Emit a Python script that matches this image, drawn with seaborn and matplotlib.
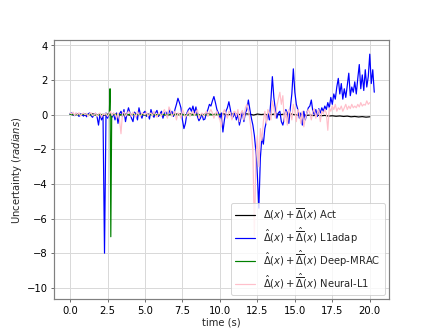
import numpy as np
import pandas as pd
import matplotlib
matplotlib.use("Agg")
import matplotlib.pyplot as plt
import seaborn as sns

# ------------------------------------------------------------
# data
# ------------------------------------------------------------
# L1adap and Neural-L1 sampled every 0.1 s
t_blue = [round(0.1 * i, 1) for i in range(204)]
blue = [
    0.05, 0.1, 0.0, -0.05, 0.08, 0.02, -0.1, 0.05, 0.0, -0.08,
    0.06, -0.12, 0.04, 0.1, -0.05, -0.15, 0.02, 0.08, -0.1, -0.6,
    0.05, -0.3, 0.02, -8.0, 0.1, -0.2, 0.05, 0.0, -0.15, 0.08,
    -0.3, 0.1, -0.5, 0.05, 0.2, -0.1, 0.3, -0.4, 0.05, 0.4,
    0.1, -0.2, -0.4, 0.15, 0.05, -0.3, 0.4, 0.0, -0.2, 0.1,
    0.2, -0.1, 0.05, -0.25, 0.3, 0.0, -0.15, 0.1, 0.25, -0.1,
    0.05, 0.2, -0.2, 0.1, 0.15, -0.1, 0.3, 0.05, 0.2, -0.1,
    0.3, 0.6, 0.95, 0.7, 0.4, -0.3, -0.8, -0.5, 0.1, 0.3,
    0.4, 0.2, 0.5, 0.1, 0.45, -0.1, -0.35, -0.2, 0.05, -0.3,
    -0.25, 0.1, 0.3, 0.6, 0.5, 0.8, 1.05, 0.7, 0.3, 0.1,
    -0.2, 0.1, -1.0, -0.3, 0.2, 0.4, 0.75, 0.3, -0.2, -0.1,
    0.1, -0.3, 0.05, -0.6, -0.2, 0.2, -0.4, 0.1, 0.3, 0.85,
    0.3, -0.2, -0.6, -1.2, -2.1, -3.5, -5.4, -2.5, -1.3, -1.7,
    -0.8, -0.4, 0.1, -0.3, 0.8, 2.2, 1.0, 0.3, -0.2, 0.1,
    0.2, -0.4, -0.6, -0.2, 0.3, 0.1, -0.5, 0.4, 1.2, 2.65,
    1.3, 0.6, 0.3, -0.2, 0.1, -0.6, 0.2, -0.3, 0.1, 0.4,
    0.5, 0.85, 0.2, 0.0, 0.3, -0.1, 0.35, 0.1, 0.4, 0.2,
    0.5, 0.3, 0.7, 0.4, 1.0, 0.6, 1.2, 0.9, 1.6, 2.1,
    1.2, 1.8, 0.9, 1.5, 1.0, 1.7, 2.4, 1.1, 1.6, 1.3,
    1.9, 1.2, 2.1, 2.9, 1.5, 2.3, 1.4, 2.6, 1.6, 2.2,
    3.5, 1.8, 2.6, 1.3,
]

t_pink = [round(0.1 * i, 1) for i in range(201)]
pink = [
    0.1, 0.05, 0.15, -0.05, 0.1, 0.0, 0.12, -0.08, 0.05, 0.1,
    0.0, 0.08, -0.1, 0.05, 0.12, -0.05, 0.0, 0.1, -0.1, 0.05,
    0.1, -0.15, 0.05, 0.0, 0.08, -0.1, 0.05, 0.2, -0.05, 0.1,
    0.05, -0.2, 0.1, -0.3, -1.1, 0.1, 0.15, -0.1, 0.05, 0.2,
    0.1, -0.1, 0.15, 0.05, -0.15, 0.2, 0.0, -0.1, 0.1, 0.05,
    0.0, 0.15, -0.1, 0.05, 0.1, -0.05, 0.2, 0.0, -0.15, 0.1,
    0.05, -0.1, 0.15, 0.3, 0.0, -0.2, 0.45, 0.25, -0.1, 0.05,
    0.2, -0.3, 0.1, 0.05, -0.2, 0.3, 0.1, -0.15, 0.0, 0.2,
    -0.1, 0.1, 0.2, -0.05, 0.15, 0.3, -0.2, 0.0, 0.1, -0.1,
    0.05, 0.2, -0.1, 0.15, 0.3, 0.1, -0.2, 0.05, 0.2, -0.1,
    -0.3, -0.7, 0.1, 0.3, 0.05, -0.2, 0.2, 0.1, -0.3, 0.15,
    0.2, -0.1, 0.3, -0.4, 0.1, 0.25, -0.3, 0.4, 0.6, 0.3,
    -0.3, -1.0, -2.0, -7.0, -2.5, -1.2, -3.0, -0.8, -1.5, -0.4,
    0.2, -0.5, 0.3, 0.1, -0.3, 0.8, 0.4, -0.2, 0.5, 0.9,
    1.3, 0.6, 1.1, -0.4, 0.2, -0.6, 0.3, 0.1, -0.3, 0.6,
    0.2, -0.4, 0.3, 0.1, -0.5, 0.2, -0.7, -0.2, 0.1, 0.3,
    0.1, -0.3, 0.2, 0.35, -0.2, 0.1, 0.3, -0.4, 0.2, 0.05,
    0.3, 0.1, -0.9, 0.4, 0.2, 0.5, 0.3, 0.6, 0.2, 0.4,
    0.3, 0.5, 0.2, 0.4, 0.6, 0.3, 0.5, 0.35, 0.6, 0.4,
    0.5, 0.4, 0.6, 0.45, 0.7, 0.5, 0.6, 0.55, 0.8, 0.6,
    0.7,
]

# actual uncertainty, every 0.25 s
t_act = [0.25 * i for i in range(81)]
act = [
    0.03, -0.02, 0.04, 0.0, -0.03, 0.02, 0.05, -0.01, 0.02, -0.04,
    0.03, 0.0, 0.04, -0.02, 0.01, 0.03, -0.03, 0.02, 0.0, 0.04,
    -0.02, 0.03, 0.05, -0.01, 0.02, 0.0, -0.03, 0.04, 0.02, 0.06,
    0.03, -0.02, 0.05, 0.01, 0.04, -0.02, 0.03, 0.06, 0.0, 0.04,
    0.02, 0.05, -0.01, 0.03, 0.06, 0.02, 0.0, 0.05, 0.03, -0.02,
    0.04, 0.01, 0.03, -0.03, 0.02, 0.05, 0.0, 0.03, 0.01, 0.04,
    0.0, -0.02, 0.01, -0.04, -0.02, -0.05, -0.03, -0.06, -0.04, -0.08,
    -0.06, -0.09, -0.07, -0.1, -0.08, -0.12, -0.1, -0.13, -0.11, -0.14,
    -0.12,
]

# Deep-MRAC
t_green = [0.0, 0.5, 1.0, 1.5, 2.0, 2.5, 2.62, 2.67, 2.72, 2.78, 3.0, 3.5,
           4.0, 5.0, 6.0, 8.0, 10.0]
green = [0.02, 0.0, 0.03, -0.02, 0.01, 0.02, 0.0, 1.5, -7.05, 0.0, 0.02, -0.01,
         0.02, 0.0, 0.01, -0.01, 0.0]

labels = [
    r"$\Delta(x) + \overline{\Delta}(x)$ Act",
    r"$\hat{\Delta}(x) + \hat{\overline{\Delta}}(x)$ L1adap",
    r"$\hat{\Delta}(x) + \hat{\overline{\Delta}}(x)$ Deep-MRAC",
    r"$\hat{\Delta}(x) + \hat{\overline{\Delta}}(x)$ Neural-L1",
]
colors = ["black", "blue", "green", "pink"]

# ------------------------------------------------------------
# plot
# ------------------------------------------------------------
sns.set_theme(style="whitegrid", rc={
    "axes.edgecolor": "0.5",
    "grid.color": "0.85",
    "xtick.bottom": True,
    "ytick.left": True,
    "xtick.color": "0.3",
    "ytick.color": "0.3",
    "xtick.labelcolor": "black",
    "ytick.labelcolor": "black",
})
plt.rcParams["font.family"] = ["DejaVu Sans"]
plt.rcParams["mathtext.fontset"] = "dejavusans"

fig, ax = plt.subplots(figsize=(6, 4.667), dpi=72)
fig.subplots_adjust(left=0.125, right=0.9, bottom=0.11, top=0.88)

series = [(t_act, act), (t_blue, blue), (t_green, green), (t_pink, pink)]
for (tt, vv), lab, col in zip(series, labels, colors):
    df = pd.DataFrame({"t": tt, "v": vv})
    sns.lineplot(data=df, x="t", y="v", ax=ax, color=col, label=lab,
                 linewidth=1.2, estimator=None, sort=False)

ax.set_xlim(-1.07, 21.27)
ax.set_ylim(-10.65, 4.3)
ax.set_xticks([0, 2.5, 5, 7.5, 10, 12.5, 15, 17.5, 20])
ax.set_xticklabels(["0.0", "2.5", "5.0", "7.5", "10.0", "12.5", "15.0", "17.5", "20.0"])
ax.set_yticks([-10, -8, -6, -4, -2, 0, 2, 4])
ax.tick_params(labelsize=10, length=3, width=0.8)
ax.set_xlabel("time (s)", fontsize=10, labelpad=2)
ax.set_ylabel(r"Uncertainty $(radians)$", fontsize=10, labelpad=2)
for sp in ax.spines.values():
    sp.set_linewidth(1.2)

ax.legend(loc="lower right", fontsize=10, framealpha=0.8, labelspacing=0.25,
          borderaxespad=0.4)

plt.savefig("out.png", dpi=72)
